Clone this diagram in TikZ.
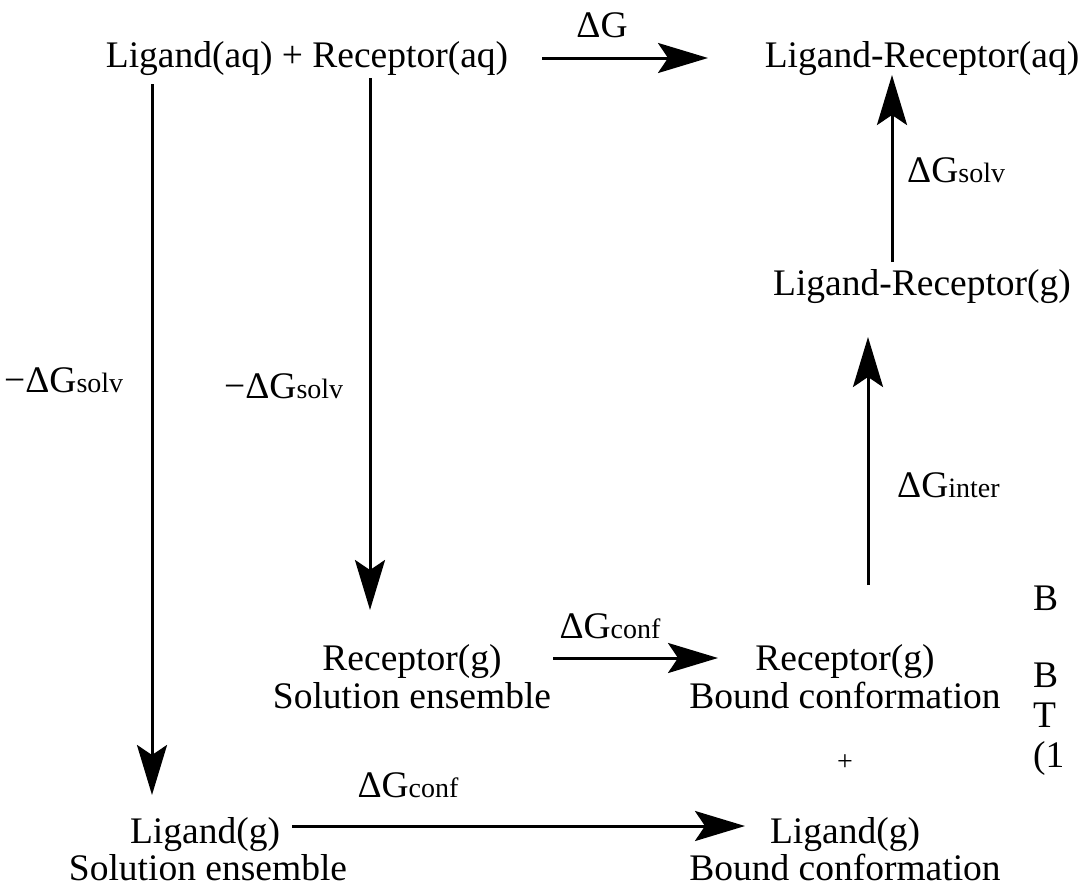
\documentclass[tikz,border=0pt]{standalone}
\usepackage{fontspec}
\setmainfont{Liberation Serif}
\usetikzlibrary{arrows.meta}
\newcommand{\smtxt}[1]{{\fontsize{28}{28}\selectfont #1}}
\begin{document}
\begin{tikzpicture}[x=1pt,y=-1pt,
  lbl/.style={inner sep=0pt, font=\fontsize{37.5}{37.5}\selectfont},
  arr/.style={line width=3pt, -{Stealth[length=50pt,width=30pt,inset=10pt]}}]
\useasboundingbox (0,0) rectangle (1087,886);
% states
\node[lbl,anchor=base] (top1) at (307,67) {Ligand(aq) + Receptor(aq)};
\node[lbl,anchor=base] (top2) at (922,67) {Ligand-Receptor(aq)};
\node[lbl,anchor=base] (lrg) at (922,295) {Ligand-Receptor(g)};
\node[lbl,anchor=base] (rs1) at (412,670) {Receptor(g)};
\node[lbl,anchor=base] (rs2) at (412,708) {Solution ensemble};
\node[lbl,anchor=base] (rb1) at (845,670) {Receptor(g)};
\node[lbl,anchor=base] (rb2) at (845,708) {Bound conformation};
\node[lbl,anchor=base,font=\fontsize{28}{28}\selectfont] (plus) at (845,770) {+};
\node[lbl,anchor=base] (ls1) at (205,843) {Ligand(g)};
\node[lbl,anchor=base] (ls2) at (208,880) {Solution ensemble};
\node[lbl,anchor=base] (lb1) at (845,843) {Ligand(g)};
\node[lbl,anchor=base] (lb2) at (845,880) {Bound conformation};
% energy labels
\node[lbl,anchor=base] (dG) at (602,37) {ΔG};
\node[lbl,anchor=base west] (dgs1) at (4,392) {−ΔG\smtxt{solv}};
\node[lbl,anchor=base west] (dgs2) at (224,398) {−ΔG\smtxt{solv}};
\node[lbl,anchor=base west] (dgs3) at (907,182) {ΔG\smtxt{solv}};
\node[lbl,anchor=base west] (dgi) at (897,497) {ΔG\smtxt{inter}};
\node[lbl,anchor=base] (dgc1) at (610,638) {ΔG\smtxt{conf}};
\node[lbl,anchor=base] (dgc2) at (408,797) {ΔG\smtxt{conf}};
% cut-off text at right edge
\node[lbl,anchor=base west] (r1) at (1033,610) {B};
\node[lbl,anchor=base west] (r2) at (1033,687) {B};
\node[lbl,anchor=base west] (r3) at (1033,727) {T};
\node[lbl,anchor=base west] (r4) at (1033,767) {(1};
% arrow end points
\coordinate (a1s) at (542,58);  \coordinate (a1e) at (708,58);
\coordinate (a2s) at (152,84);  \coordinate (a2e) at (152,795);
\coordinate (a3s) at (370,78);  \coordinate (a3e) at (370,610);
\coordinate (a4s) at (892,262); \coordinate (a4e) at (892,75);
\coordinate (a5s) at (868,585); \coordinate (a5e) at (868,337);
\coordinate (a6s) at (553,658); \coordinate (a6e) at (718,658);
\coordinate (a7s) at (292,826); \coordinate (a7e) at (745,826);
\draw[arr] (a1s) -- (a1e);
\draw[arr] (a2s) -- (a2e);
\draw[arr] (a3s) -- (a3e);
\draw[arr] (a4s) -- (a4e);
\draw[arr] (a5s) -- (a5e);
\draw[arr] (a6s) -- (a6e);
\draw[arr] (a7s) -- (a7e);
\end{tikzpicture}
\end{document}
